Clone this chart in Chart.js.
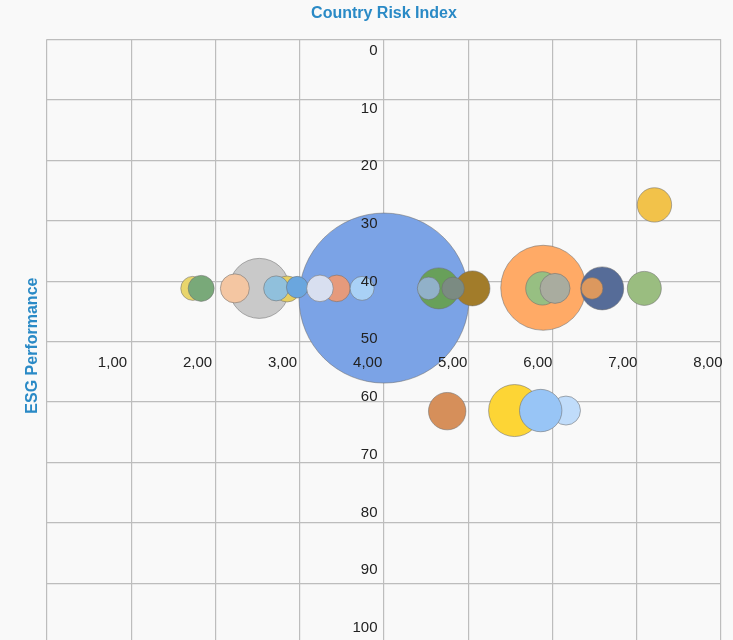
<!DOCTYPE html>
<html>
<head>
<meta charset="utf-8">
<title>Country Risk Index</title>
<script src="https://cdn.jsdelivr.net/npm/chart.js@4/dist/chart.umd.min.js"></script>
<style>
  html, body { margin: 0; padding: 0; overflow: hidden; background: #f9f9f9; }
  #wrap { width: 733px; height: 650px; }
</style>
</head>
<body>
<div id="wrap"><canvas id="chart" width="733" height="650"></canvas></div>
<script>
// Country Risk Index (x) against ESG Performance (y); bubble size in px.
const riskIndex = [4.00, 2.52, 5.89, 1.73, 1.83, 2.23, 2.85, 2.72, 2.97, 3.44, 3.24, 3.74,
                   5.05, 4.65, 4.53, 4.82, 5.88, 6.03, 6.59, 6.47, 7.09,
                   4.75, 6.16, 5.55, 5.86, 7.21];
const esgScore  = [42.8, 41.2, 41.1, 41.2, 41.2, 41.2, 41.3, 41.2, 41.0, 41.2, 41.2, 41.2,
                   41.2, 41.2, 41.2, 41.2, 41.2, 41.2, 41.2, 41.2, 41.2,
                   61.5, 61.4, 61.4, 61.4, 27.4];
const bubbleSize = [85, 30, 42.5, 12, 13, 14.5, 13, 12.5, 10.8, 13.3, 13.3, 12,
                    17.5, 20.5, 11.3, 11.2, 16.7, 15, 21.5, 10.8, 17,
                    18.7, 14.5, 26, 21.2, 17.2];
const bubbleColors = ['#7ba3e6', '#c9c9c9', '#ffaa66', '#e8d56c', '#79a979', '#f4c6a2',
                      '#e6cf62', '#90c0dc', '#6aa6de', '#e69a7c', '#d8dff0', '#a9d1f6',
                      '#a27c2a', '#68a05a', '#91b1c9', '#7b8b82', '#97bf82', '#a9ac9f',
                      '#566c98', '#dc985e', '#9abd80',
                      '#d68f5a', '#c0dcfa', '#fdd535', '#98c5f6', '#f2c24a'];

const xTicks = [1, 2, 3, 4, 5, 6, 7, 8];
const yTicks = [0, 10, 20, 30, 40, 50, 60, 70, 80, 90, 100];
const xCross = 4;   // vertical axis sits at this risk value
const yCross = 50;  // horizontal axis sits at this ESG value

const titleBlue = '#2a8ac6';
const labelFont = '15px "Liberation Sans", Arial, Helvetica, sans-serif';

const points = riskIndex.map((x, i) => ({ x: x, y: esgScore[i], r: bubbleSize[i] }));

// Axis tick labels and the rotated y-axis title, drawn over the bubbles.
const axisLabels = {
  id: 'axisLabels',
  afterDatasetsDraw(chart) {
    const { ctx, chartArea, scales } = chart;
    const xs = scales.x, ys = scales.y;
    ctx.save();
    ctx.font = labelFont;
    ctx.fillStyle = '#222';
    ctx.textBaseline = 'middle';
    ctx.textAlign = 'right';

    // x labels, right-aligned at their grid lines, below the crossing axis
    const xFrom = xs.getPixelForValue(xs.min) - 5;
    const xTo = xs.getPixelForValue(xs.max) + 1.5;
    const xRowY = ys.getPixelForValue(yCross) + 21.5;
    xTicks.forEach(v => {
      const px = xFrom + (xTo - xFrom) * (v - xs.min) / (xs.max - xs.min);
      ctx.fillText(v.toFixed(2).replace('.', ','), px, xRowY);
    });

    // y labels, spread just inside the plot, left of the crossing axis
    const yFrom = ys.getPixelForValue(ys.min) + 11.5;
    const yTo = ys.getPixelForValue(ys.max) - 16;
    const yColX = xs.getPixelForValue(xCross) - 6.5;
    yTicks.forEach(v => {
      const py = yFrom + (yTo - yFrom) * (v - ys.min) / (ys.max - ys.min);
      ctx.fillText(String(v), yColX, py);
    });

    // y-axis title
    ctx.font = 'bold 16px "Liberation Sans", Arial, Helvetica, sans-serif';
    ctx.fillStyle = titleBlue;
    ctx.textAlign = 'center';
    ctx.translate(chartArea.left - 14, (chartArea.top + chartArea.bottom) / 2 + 4);
    ctx.rotate(-Math.PI / 2);
    ctx.fillText('ESG Performance', 0, 0);
    ctx.restore();
  }
};

new Chart(document.getElementById('chart'), {
  type: 'bubble',
  data: {
    datasets: [{
      data: points,
      backgroundColor: bubbleColors,
      borderColor: 'rgba(110,110,110,0.55)',
      borderWidth: 1,
      hoverBorderWidth: 1,
      clip: false
    }]
  },
  options: {
    responsive: false,
    animation: false,
    events: [],
    layout: { autoPadding: false, padding: { left: 47, right: 12, top: 0, bottom: 6 } },
    plugins: {
      legend: { display: false },
      tooltip: { enabled: false },
      title: {
        display: true,
        text: 'Country Risk Index',
        fullSize: false,
        color: titleBlue,
        font: { family: '"Liberation Sans", Arial, Helvetica, sans-serif', size: 16, weight: 'bold' },
        padding: { top: 4, bottom: 16 }
      }
    },
    scales: {
      x: {
        type: 'linear',
        min: 0,
        max: 8,
        ticks: { display: false, stepSize: 1 },
        grid: { color: '#bdbdbd', lineWidth: 1.2, drawTicks: false },
        border: { display: false }
      },
      y: {
        type: 'linear',
        reverse: true,
        min: 0,
        max: 100,
        ticks: { display: false, stepSize: 10 },
        grid: { color: '#bdbdbd', lineWidth: 1.2, drawTicks: false },
        border: { display: false }
      }
    }
  },
  plugins: [axisLabels]
});
</script>
</body>
</html>
